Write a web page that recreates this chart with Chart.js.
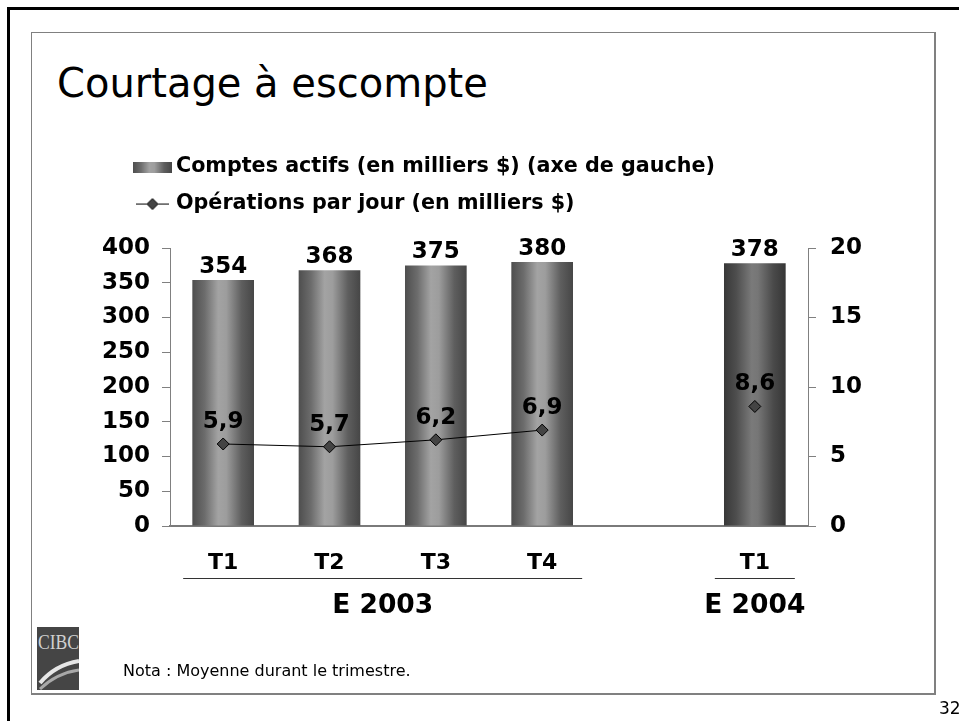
<!DOCTYPE html>
<html lang="fr">
<head>
<meta charset="UTF-8">
<title>Courtage à escompte</title>
<script src="https://cdn.jsdelivr.net/npm/chart.js"></script>
<style>
  body { margin: 0; width: 959px; height: 721px; position: relative; overflow: hidden; background: #fff; font-family: "DejaVu Sans", Verdana, sans-serif; }
  #cadre { position: absolute; left: 7px; top: 7px; width: 1000px; height: 800px; border-left: 3px solid #000; border-top: 3px solid #000; }
  #page { position: absolute; left: 31px; top: 32px; width: 902px; height: 660px; border: 1px solid #808080; border-right-width: 2px; border-bottom-width: 2px; }
  #titre { position: absolute; left: 57px; top: 63px; font-size: 40px; line-height: 40px; color: #000; white-space: nowrap; }
  #graph { position: absolute; left: 0; top: 0; }
  #logo { position: absolute; left: 37px; top: 627px; width: 42px; height: 63px; background: #454545; overflow: hidden; }
  #logo span { position: absolute; left: 1px; top: 2px; font-family: "Liberation Serif", serif; font-size: 22px; color: #d0d0d0; transform: scaleX(0.8); transform-origin: 0 0; white-space: nowrap; }
  #logo svg { position: absolute; left: 0; top: 0; }
  #nota { position: absolute; left: 123px; top: 661px; font-size: 16px; color: #000; white-space: nowrap; }
  #numero { position: absolute; left: 939px; top: 698px; font-size: 17px; color: #000; }
</style>
</head>
<body>
<div id="cadre"></div>
<div id="page"></div>
<div id="titre">Courtage à escompte</div>
<canvas id="graph" width="959" height="721"></canvas>
<div id="logo"><span>CIBC</span>
  <svg width="42" height="63">
    <path d="M3 56 Q18 38 42 34" stroke="#e6e6e6" stroke-width="4" fill="none"/>
    <path d="M3 62 Q20 46 42 43" stroke="#a8a8a8" stroke-width="3" fill="none"/>
  </svg>
</div>
<div id="nota">Nota : Moyenne durant le trimestre.</div>
<div id="numero">32</div>

<script>
// donnees
const trimestres = ['T1', 'T2', 'T3', 'T4', '', 'T1'];
const comptesActifs = [354, 368, 375, 380, null, 378];
const operationsParJour = [5.9, 5.7, 6.2, 6.9, null, 8.6];
const ticksGauche = [0, 50, 100, 150, 200, 250, 300, 350, 400];
const ticksDroite = [0, 5, 10, 15, 20];
const groupes = ['E 2003', 'E 2004'];
const groupeDebut = [0, 5];
const groupeFin = [3, 5];

const police = '"DejaVu Sans", Verdana, sans-serif';
Chart.defaults.font.family = police;
Chart.defaults.color = '#000';

// degrade horizontal des barres (la derniere est plus foncee)
const degradeClair = [[0, '#4e4e4e'], [0.2, '#6c6c6c'], [0.42, '#a3a3a3'], [0.55, '#9d9d9d'], [0.8, '#5e5e5e'], [1, '#464646']];
const degradeFonce = [[0, '#383838'], [0.2, '#4e4e4e'], [0.45, '#7a7a7a'], [0.55, '#767676'], [0.8, '#4a4a4a'], [1, '#363636']];

function couleurBarre(c) {
    const chart = c.chart;
    const x = chart.scales.x;
    if (!chart.chartArea || !x || c.type !== 'data') return '#808080';
    const centre = x.getPixelForValue(c.dataIndex);
    const demi = x.width / trimestres.length * 0.58 / 2;
    const g = chart.ctx.createLinearGradient(centre - demi, 0, centre + demi, 0);
    const arrets = c.dataIndex === 5 ? degradeFonce : degradeClair;
    arrets.forEach(a => g.addColorStop(a[0], a[1]));
    return g;
}

// petites icones de legende
function iconeBarre() {
    const c = document.createElement('canvas');
    c.width = 39; c.height = 11;
    const g = c.getContext('2d');
    const d = g.createLinearGradient(0, 0, 39, 0);
    degradeClair.forEach(a => d.addColorStop(a[0], a[1]));
    g.fillStyle = d;
    g.fillRect(0, 0, 39, 11);
    return c;
}
function iconeLigne() {
    const c = document.createElement('canvas');
    c.width = 33; c.height = 13;
    const g = c.getContext('2d');
    g.strokeStyle = '#000'; g.lineWidth = 1;
    g.beginPath(); g.moveTo(0, 6.5); g.lineTo(33, 6.5); g.stroke();
    g.beginPath(); g.moveTo(11, 6.5); g.lineTo(16.5, 1); g.lineTo(22, 6.5); g.lineTo(16.5, 12); g.closePath();
    g.fillStyle = '#444'; g.fill(); g.stroke();
    return c;
}

function formatFr(v, dec) {
    return v.toFixed(dec).replace('.', ',');
}

// valeurs au-dessus des barres et des points
const etiquettes = {
    id: 'etiquettes',
    afterDatasetsDraw(chart) {
        const ctx = chart.ctx;
        ctx.save();
        ctx.font = 'bold 23px ' + police;
        ctx.fillStyle = '#000';
        ctx.textAlign = 'center';
        ctx.textBaseline = 'alphabetic';
        chart.data.datasets.forEach((ds, i) => {
            const meta = chart.getDatasetMeta(i);
            const ligne = ds.type === 'line';
            meta.data.forEach((el, j) => {
                const v = ds.data[j];
                if (v === null) return;
                ctx.fillText(formatFr(v, ligne ? 1 : 0), el.x, el.y - (ligne ? 16 : 7));
            });
        });
        ctx.restore();
    }
};

// annees sous les trimestres, avec le trait
const annees = {
    id: 'annees',
    afterDraw(chart) {
        const ctx = chart.ctx;
        const x = chart.scales.x;
        const bas = chart.chartArea.bottom;
        ctx.save();
        ctx.strokeStyle = '#333';
        ctx.lineWidth = 1;
        ctx.font = 'bold 26.5px ' + police;
        ctx.fillStyle = '#000';
        ctx.textAlign = 'center';
        groupes.forEach((nom, k) => {
            const x1 = x.getPixelForValue(groupeDebut[k]) - 40;
            const x2 = x.getPixelForValue(groupeFin[k]) + 40;
            ctx.beginPath();
            ctx.moveTo(x1, bas + 52.5);
            ctx.lineTo(x2, bas + 52.5);
            ctx.stroke();
            ctx.fillText(nom, (x1 + x2) / 2, bas + 80);
        });
        ctx.restore();
    }
};

// legende : plus d'espace en dessous et decalee vers la droite
const placeLegende = {
    id: 'placeLegende',
    beforeLayout(chart) {
        const legende = chart.legend;
        if (!legende || legende._margeFaite) return;
        const fit = legende.fit;
        legende.fit = function () {
            fit.call(this);
            this.height += 23.6;
        };
        legende._margeFaite = true;
    },
    afterLayout(chart) {
        chart.legend.left += 33;
    }
};

const ctx = document.getElementById('graph').getContext('2d');
const graphique = new Chart(ctx, {
    data: {
        labels: trimestres,
        datasets: [
            {
                type: 'bar',
                label: 'Comptes actifs (en milliers $) (axe de gauche)',
                data: comptesActifs,
                yAxisID: 'y',
                backgroundColor: couleurBarre,
                borderWidth: 0,
                barPercentage: 0.58,
                categoryPercentage: 1,
                order: 1
            },
            {
                type: 'line',
                label: 'Opérations par jour (en milliers $)',
                data: operationsParJour,
                yAxisID: 'y2',
                borderColor: '#000',
                borderWidth: 1,
                tension: 0,
                spanGaps: false,
                pointStyle: 'rectRot',
                pointRadius: 6,
                pointBackgroundColor: '#444',
                pointBorderColor: '#000',
                pointBorderWidth: 1,
                order: 0
            }
        ]
    },
    options: {
        responsive: false,
        animation: false,
        devicePixelRatio: 1,
        layout: { padding: { left: 90, top: 140.4, right: 0, bottom: 0 } },
        plugins: {
            tooltip: { enabled: false },
            legend: {
                position: 'top',
                align: 'start',
                labels: {
                    usePointStyle: true,
                    pointStyleWidth: 26.3,
                    padding: 16.3,
                    color: '#000',
                    font: { size: 20.7, weight: 'bold' },
                    generateLabels: function (chart) {
                        const ds = chart.data.datasets;
                        return [
                            { text: ds[0].label, pointStyle: iconeBarre(), fillStyle: '#808080', lineWidth: 0, datasetIndex: 0 },
                            { text: ds[1].label, pointStyle: iconeLigne(), fillStyle: '#444', lineWidth: 0, datasetIndex: 1 }
                        ];
                    }
                }
            }
        },
        scales: {
            x: {
                grid: { display: true, drawOnChartArea: false, drawTicks: false },
                border: { color: '#7a7a7a', width: 2 },
                ticks: { font: { size: 22, weight: 'bold' }, padding: 24, maxRotation: 0 },
                afterFit: function (s) { s.height = 195; }
            },
            y: {
                position: 'left',
                min: 0,
                max: 400,
                afterBuildTicks: function (s) { s.ticks = ticksGauche.map(v => ({ value: v })); },
                grid: { drawOnChartArea: false, tickLength: 8, color: '#808080' },
                border: { color: '#808080', width: 1 },
                ticks: { font: { size: 23, weight: 'bold' }, padding: 12 },
                afterFit: function (s) { s.width = 80; }
            },
            y2: {
                position: 'right',
                min: 0,
                max: 20,
                afterBuildTicks: function (s) { s.ticks = ticksDroite.map(v => ({ value: v })); },
                grid: { drawOnChartArea: false, tickLength: 8, color: '#808080' },
                border: { color: '#808080', width: 1 },
                ticks: { font: { size: 23, weight: 'bold' }, padding: 14 },
                afterFit: function (s) { s.width = 151; }
            }
        }
    },
    plugins: [etiquettes, annees, placeLegende]
});
</script>
</body>
</html>
